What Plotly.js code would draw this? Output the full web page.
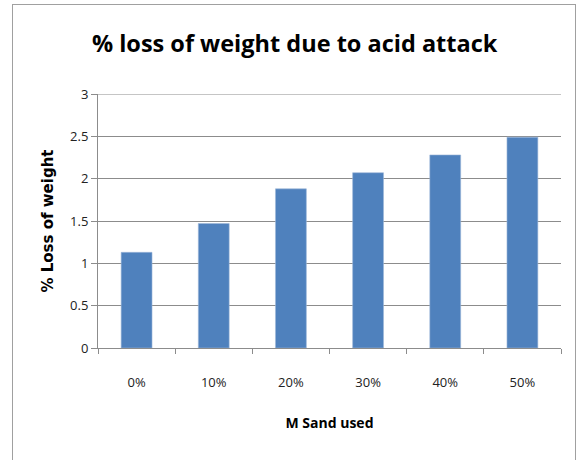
<!DOCTYPE html>
<html>
<head>
<meta charset="utf-8">
<script src="https://cdn.plot.ly/plotly-3.0.1.min.js"></script>
<style>
html,body{margin:0;padding:0;background:#fff;}
#wrap{position:relative;width:580px;height:460px;}
#chart{position:absolute;left:0;top:0;width:580px;height:460px;}
#frame{position:absolute;left:12px;top:4px;width:562px;height:470px;border:1px solid #a0a0a0;pointer-events:none;}
</style>
</head>
<body>
<div id="wrap"><div id="chart"></div><div id="frame"></div></div>
<script>
const categories = ["0%", "10%", "20%", "30%", "40%", "50%"];
const lossValues = [1.13, 1.47, 1.88, 2.07, 2.28, 2.49];
const yTickVals = [0, 0.5, 1, 1.5, 2, 2.5, 3];
const yTickText = ["0", "0.5", "1", "1.5", "2", "2.5", "3"];

const font = "Open Sans, sans-serif";
const yMax = yTickVals[yTickVals.length - 1];

const trace = {
  type: "bar",
  x: categories,
  y: lossValues,
  marker: {color: "#4F81BD", line: {color: "#9db7d9", width: 0.6}},
  hoverinfo: "x+y"
};

const layout = {
  width: 580, height: 460,
  margin: {l: 98, r: 19, t: 94, b: 112, pad: 0},
  paper_bgcolor: "rgba(0,0,0,0)",
  plot_bgcolor: "#fff",
  showlegend: false,
  bargap: 0.6,
  title: {
    text: "% loss of weight due to acid attack",
    font: {family: font, size: 23.5, color: "#000", weight: "bold"},
    x: 0.508, xanchor: "center", y: 0.905, yanchor: "middle"
  },
  xaxis: {
    type: "category",
    showline: true, linecolor: "#8c8c8c", linewidth: 1,
    ticks: "outside", tickson: "boundaries", ticklen: 5, tickcolor: "#8c8c8c",
    tickfont: {family: font, size: 13, color: "#222"},
    ticklabelstandoff: 22,
    title: {text: "M Sand used", font: {family: font, size: 14, color: "#000", weight: "bold"}, standoff: 28},
    showgrid: false, zeroline: false, fixedrange: true
  },
  yaxis: {
    range: [0, yMax],
    tickvals: yTickVals, ticktext: yTickText,
    showline: true, linecolor: "#8c8c8c", linewidth: 1,
    ticks: "outside", ticklen: 6, tickcolor: "#8c8c8c",
    tickfont: {family: font, size: 13, color: "#222"},
    showgrid: true, gridcolor: "#8c8c8c", gridwidth: 1,
    zeroline: false, fixedrange: true,
    title: {text: "% Loss of weight", font: {family: "DejaVu Sans, sans-serif", size: 15, color: "#000", weight: "bold"}, standoff: 12}
  },
  shapes: [{
    type: "line", xref: "paper", x0: 0, x1: 1, yref: "y", y0: yMax, y1: yMax,
    line: {color: "#8c8c8c", width: 1}, layer: "below"
  }]
};

Plotly.newPlot("chart", [trace], layout, {displayModeBar: false, staticPlot: true});
</script>
</body>
</html>
